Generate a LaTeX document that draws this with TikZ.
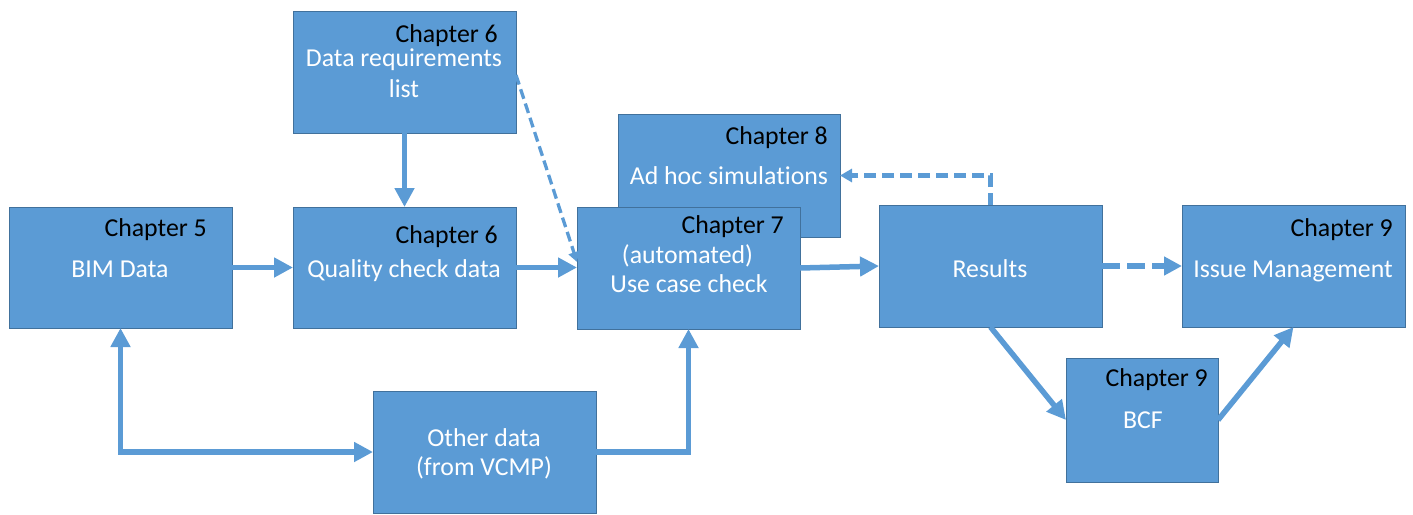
\documentclass[tikz,border=0pt]{standalone}
\usepackage{fontspec}
\setmainfont{Carlito}[Ligatures=NoCommon]
\usetikzlibrary{arrows.meta}
\definecolor{boxblue}{HTML}{5B9BD5}
\definecolor{boxedge}{HTML}{41719C}
\begin{document}
\begin{tikzpicture}[x=1pt,y=-1pt,
  box/.style={draw=boxedge, line width=1pt, fill=boxblue, inner sep=0pt, outer sep=0pt},
  chap/.style={anchor=base east, inner sep=0pt, text=black, font=\fontsize{25.8}{31}\selectfont},
  txt/.style={anchor=base, inner sep=0pt, text=white, font=\fontsize{25.8}{31}\selectfont},
  arr/.style={draw=boxblue, line width=5.5pt, -{Triangle[length=19pt,width=19pt]}},
  dasharr/.style={draw=boxblue, line width=4.3pt, dash pattern=on 12pt off 6pt, -{Triangle[length=12pt,width=13pt]}},
  thickdash/.style={draw=boxblue, line width=6.5pt, dash pattern=on 18pt off 7pt, -{Triangle[length=18pt,width=18pt]}},
  thindash/.style={draw=boxblue, line width=3.3pt, dash pattern=on 10pt off 5pt, -{Triangle[length=10pt,width=11pt]}}]
\useasboundingbox (0,0) rectangle (1413,514);

% boxes
\node[box, minimum width=223pt, minimum height=121pt] (bim) at (120.5,267.5) {};
\node[box, minimum width=223pt, minimum height=122pt] (drl) at (404.5,72) {};
\node[box, minimum width=223pt, minimum height=121pt] (qc)  at (404.5,267.5) {};
\node[box, minimum width=222pt, minimum height=123pt] (sim) at (729,175.5) {};
\node[box, minimum width=223pt, minimum height=122pt] (ucc) at (688.5,268) {};
\node[box, minimum width=223pt, minimum height=122pt] (res) at (990.5,266) {};
\node[box, minimum width=223pt, minimum height=122pt] (iss) at (1293.5,266) {};
\node[box, minimum width=152pt, minimum height=124pt] (bcf) at (1142,420) {};
\node[box, minimum width=223pt, minimum height=122pt] (oth) at (484.5,452) {};

% labels
\node[chap] (bimc) at (207,236) {Chapter 5};
\node[txt]  (bimt) at (120,277) {BIM Data};
\node[chap] (drlc) at (498,42) {Chapter 6};
\node[txt]  (drlt) at (404,66) {Data requirements};
\node[txt]  (drlu) at (404,97) {list};
\node[chap] (qcc)  at (498,243) {Chapter 6};
\node[txt]  (qct)  at (404,277) {Quality check data};
\node[chap] (simc) at (828,144) {Chapter 8};
\node[txt]  (simt) at (729,184) {Ad hoc simulations};
\node[chap] (uccc) at (784,233) {Chapter 7};
\node[txt]  (ucct) at (687.5,263) {(automated)};
\node[txt]  (uccu) at (689,292) {Use case check};
\node[txt]  (rest) at (990,277) {Results};
\node[chap] (issc) at (1393,236) {Chapter 9};
\node[txt]  (isst) at (1293,277) {Issue Management};
\node[chap] (bcfc) at (1208,386) {Chapter 9};
\node[txt]  (bcft) at (1143,428) {BCF};
\node[txt]  (otht) at (484,446) {Other data};
\node[txt]  (othu) at (484,475) {(from VCMP)};

% connectors
\draw[arr] (bim.east) -- (qc.west);
\draw[arr] (qc.east) -- (qc.east -| ucc.west);
\draw[arr] (drl.south) -- (qc.north);
\draw[thindash] ([yshift=-3pt]drl.east) -- ([yshift=6pt]ucc.west);
\draw[arr] (ucc.east) -- (res.west);
\draw[thickdash] (res.east) -- (iss.west);
\draw[dasharr] (res.north) -- (res.north |- sim.east) -- (sim.east);
\draw[arr] (res.south) -- (bcf.west);
\draw[arr] (bcf.east) -- (iss.south);
\draw[arr, {Triangle[length=19pt,width=19pt]}-{Triangle[length=19pt,width=19pt]}]
  (bim.south) -- (bim.south |- oth.west) -- (oth.west);
\draw[arr] (oth.east) -- (oth.east -| ucc.south) -- (ucc.south);
\end{tikzpicture}
\end{document}
